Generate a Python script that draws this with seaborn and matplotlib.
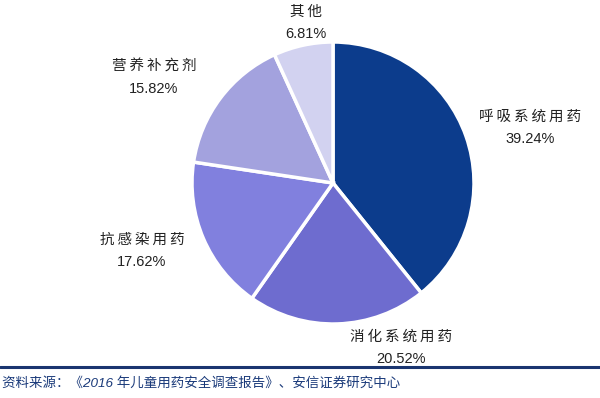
import matplotlib

matplotlib.use("Agg")
import matplotlib.pyplot as plt
import seaborn as sns

sns.set_theme(style="white")
plt.rcParams["font.family"] = ["Liberation Sans", "Noto Sans CJK SC", "DejaVu Sans"]

# shares of children's medicine use, clockwise from 12 o'clock
categories = ["呼吸系统用药", "消化系统用药", "抗感染用药", "营养补充剂", "其他"]
shares = [39.24, 20.52, 17.62, 15.82, 6.81]
colours = ["#0c3c8c", "#6e6ccf", "#8180de", "#a3a2de", "#d2d2f0"]

# label centres in figure pixels (x, y from top)
label_px = [(530, 117), (401, 337), (142, 240), (154, 67), (306, 12)]

W, H = 600, 398
fig = plt.figure(figsize=(W / 100, H / 100), dpi=100)

cx, cy, r = 333, 183, 141
ax = fig.add_axes([(cx - r) / W, 1 - (cy + r) / H, 2 * r / W, 2 * r / H])
ax.pie(
    shares,
    colors=colours,
    startangle=90,
    counterclock=False,
    wedgeprops={"edgecolor": "white", "linewidth": 2.5},
)
ax.set_aspect("equal")
ax.set_xlim(-1, 1)
ax.set_ylim(-1, 1)
ax.axis("off")

for name, val, (x, y) in zip(categories, shares, label_px):
    # the source uses a wide song-style face; spread the glyphs a little
    fig.text(x / W, 1 - y / H, "\u2009".join(name), ha="center", va="center",
             fontsize=10.5, color="#222222")
    fig.text(x / W, 1 - (y + 22) / H, f"{val:.2f}%", ha="center", va="center",
             fontsize=10.5, color="#222222")

# source footer
fig.add_artist(plt.Line2D([0, 1], [1 - 367 / H, 1 - 367 / H], color="#1a3570", lw=2.2))
fig.text(2 / W, 1 - 383 / H, "资料来源：《2016 年儿童用药安全调查报告》、安信证券研究中心",
         ha="left", va="center", fontsize=9.7, style="italic", color="#1a3a7a")

fig.savefig("out.png", dpi=100)
